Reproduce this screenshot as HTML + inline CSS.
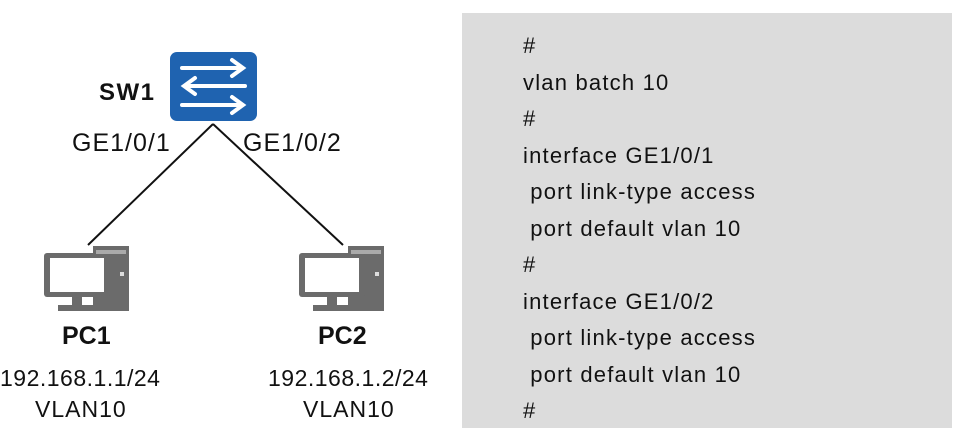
<!DOCTYPE html>
<html><head><meta charset="utf-8"><style>
html,body{margin:0;padding:0;background:#fff;}
body{width:956px;height:436px;position:relative;overflow:hidden;font-family:"Liberation Sans","DejaVu Sans",sans-serif;}
.t{position:absolute;white-space:nowrap;color:#111;}
</style></head><body>
<svg width="956" height="436" style="position:absolute;left:0;top:0">
<rect x="462" y="13" width="490" height="415" fill="#dcdcdc"/>
<line x1="213" y1="124" x2="88" y2="245" stroke="#111" stroke-width="2"/>
<line x1="213" y1="124" x2="343" y2="245" stroke="#111" stroke-width="2"/>
<rect x="170" y="52" width="87" height="69" rx="7" fill="#1f63b0"/>
<g stroke="#fff" stroke-width="4" fill="none" stroke-linecap="round">
<line x1="182" y1="68" x2="242" y2="68"/><polyline points="232,60 243,68 232,76"/>
<line x1="185" y1="86" x2="245" y2="86"/><polyline points="195,78 184,86 195,94"/>
<line x1="182" y1="105" x2="242" y2="105"/><polyline points="232,97 243,105 232,113"/>
</g>
<g id="pc" fill="#6b6b6b">
<rect x="93" y="246" width="36" height="65"/>
<rect x="44" y="253" width="66" height="44" rx="3" fill="#6b6b6b"/>
<rect x="50" y="258" width="54" height="34" fill="#fff"/>
<rect x="72" y="297" width="10" height="8"/>
<rect x="58" y="305" width="38" height="6"/>
<rect x="96" y="250" width="30" height="4" fill="#aaa"/>
<rect x="120" y="272" width="4" height="4" fill="#ddd"/>
</g>
<use href="#pc" x="255"/>
</svg>
<div class="t" style="left:99px;top:79px;font-size:24px;font-weight:bold;letter-spacing:1.5px;">SW1</div>
<div class="t" style="left:72px;top:129px;font-size:25px;letter-spacing:1px;">GE1/0/1</div>
<div class="t" style="left:243px;top:129px;font-size:25px;letter-spacing:1px;">GE1/0/2</div>
<div class="t" style="left:62px;top:322px;font-size:25px;font-weight:bold;">PC1</div>
<div class="t" style="left:318px;top:322px;font-size:25px;font-weight:bold;">PC2</div>
<div class="t" style="left:0px;top:365px;font-size:23px;letter-spacing:0.5px;">192.168.1.1/24</div>
<div class="t" style="left:35px;top:396px;font-size:23px;letter-spacing:1px;">VLAN10</div>
<div class="t" style="left:268px;top:365px;font-size:23px;letter-spacing:0.5px;">192.168.1.2/24</div>
<div class="t" style="left:303px;top:396px;font-size:23px;letter-spacing:1px;">VLAN10</div>
<div class="t" style="left:523px;top:28px;font-size:22px;letter-spacing:1.2px;line-height:36.5px;white-space:pre;">#
vlan batch 10
#
interface GE1/0/1
 port link-type access
 port default vlan 10
#
interface GE1/0/2
 port link-type access
 port default vlan 10
#</div>
</body></html>
